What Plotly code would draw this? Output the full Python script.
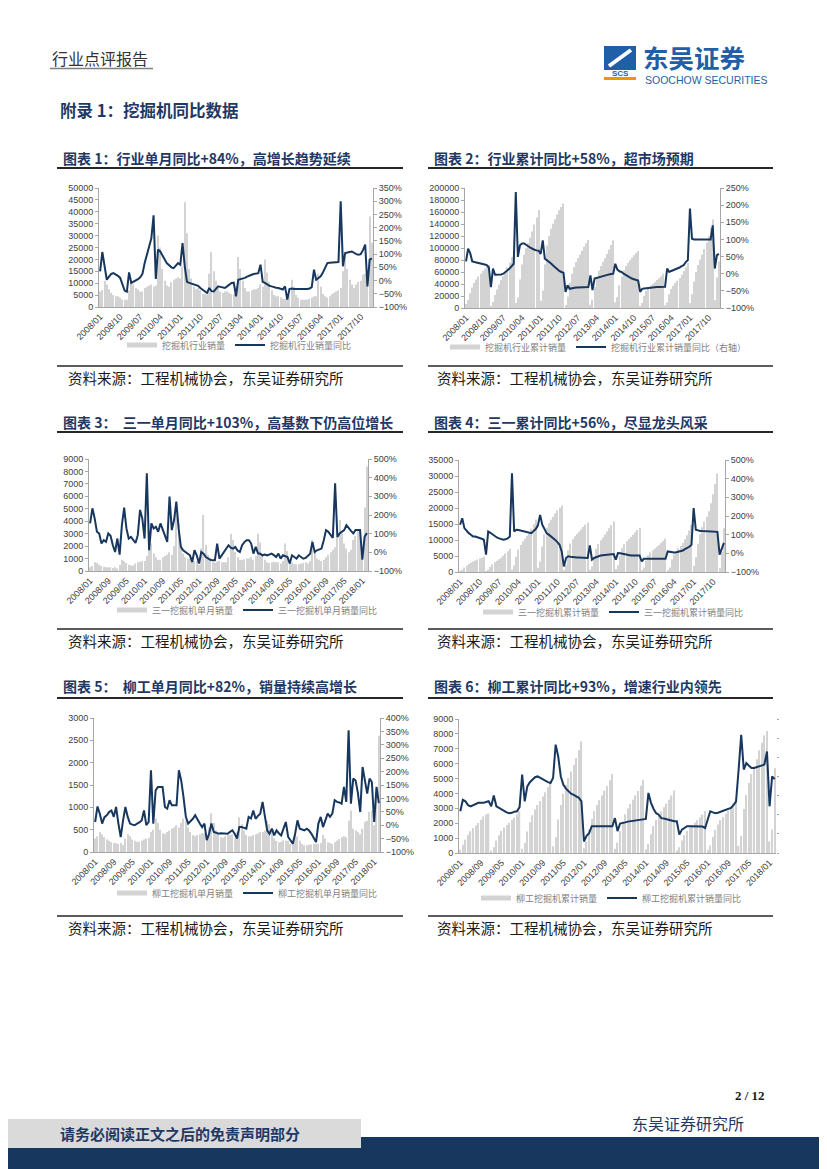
import plotly.graph_objects as go

W, H = 827, 1169
OFF = 8  # the page body adds an 8px margin, so page coordinates are shifted back by it
NAVY = "#1f3864"
LINE = "#17375e"
BAR = "#d3d3d3"
TXT = "#404040"
CJK = "Noto Sans CJK SC"
LAT = "Liberation Sans"

# month labels 2008/01 .. 2018/03
months = [f"{y}/{m:02d}" for y in range(2008, 2019) for m in range(1, 13)][:123]
ticks_9 = months[::9]
ticks_8 = months[::8]

# ---- 图表1: 挖掘机行业单月销量 / 同比 ----
ind_month_sales = [
    6500, 7000, 11000, 9500, 7500, 6000, 5000, 4500, 4500, 4000, 3200, 3000,
    3000, 7000, 11500, 9500, 8000, 7500, 6500, 6500, 8000, 8500, 9000, 9500,
    8500, 9000, 30000, 25000, 16000, 11000, 9000, 8500, 10500, 11500, 12000, 12500,
    12000, 17000, 44000, 31000, 16000, 12000, 8500, 7500, 8000, 7000, 5500, 5500,
    5000, 14000, 23000, 15000, 11000, 8500, 6500, 6000, 6500, 6500, 6000, 5500,
    5500, 8500, 21000, 16000, 11000, 8000, 6500, 6500, 7000, 7500, 7500, 8000,
    9500, 8500, 20000, 14500, 10500, 7000, 5000, 4500, 4500, 4000, 3500, 3500,
    3500, 5000, 11500, 8500, 5000, 4000, 3000, 3000, 3000, 3000, 3500, 4000,
    4500, 4500, 14000, 8500, 5500, 4500, 4000, 4500, 5500, 6000, 6500, 7000,
    8000, 15000, 21000, 16000, 11500, 9500, 8000, 9500, 10500, 11000, 13500, 14000,
    13000, 38000, 27000,
]
ind_month_yoy = [
    35, 108, 55, 3, 15, 25, 28, 24, 18, 10, -15, -38,
    -42, 31, -9, -5, 0, 5, 12, 25, 66, 100, 129, 160,
    247, 6, 117, 110, 95, 80, 65, 58, 50, 47, 55, 66,
    60, 142, 54, -5, -9, -12, -14, -16, -20, -28, -35, -42,
    -47, -28, -40, -41, -30, -22, -24, -27, -28, -22, -15, -9,
    -8, -60, 3, 5, 8, 10, 15, 20, 22, 25, 26, 28,
    60, -5, -9, -15, -20, -22, -25, -27, -28, -30, -34, -22,
    -72, -32, -30, -32, -33, -32, -32, -31, -32, -32, -30, -25,
    41, 3, 10, 16, 30, 50, 66, 67, 68, 68, 69, 70,
    300, 54, 104, 105, 108, 110, 104, 100, 98, 100, 115, 136,
    -22, 79, 84,
]

# ---- 图表2: 挖掘机行业累计销量 / 同比 ----
ind_cum_sales = [
    6500, 13500, 24500, 34000, 41500, 47500, 52500, 57000, 61500, 65500, 68700, 71700,
    3000, 10000, 21500, 31000, 39000, 46500, 53000, 59500, 67500, 76000, 85000, 94500,
    8500, 17500, 47500, 72500, 88500, 99500, 108500, 117000, 127500, 139000, 151000, 163500,
    12000, 29000, 73000, 104000, 120000, 132000, 140500, 148000, 156000, 163000, 168500, 174000,
    5000, 19000, 42000, 57000, 68000, 76500, 83000, 89000, 95500, 102000, 108000, 113500,
    5500, 14000, 35000, 51000, 62000, 70000, 76500, 83000, 90000, 97500, 105000, 113000,
    9500, 18000, 38000, 52500, 63000, 70000, 75000, 79500, 84000, 88000, 91500, 95000,
    3500, 8500, 20000, 28500, 33500, 37500, 40500, 43500, 46500, 49500, 53000, 57000,
    4500, 9000, 23000, 31500, 37000, 41500, 45500, 50000, 55500, 61500, 68000, 75000,
    8000, 23000, 44000, 60000, 71500, 81000, 89000, 98500, 109000, 120000, 133500, 147500,
    13000, 51000, 78000,
]
ind_cum_yoy = [
    36, 73, 60, 36, 34, 33, 32, 30, 29, 27, 25, 18,
    -39, 15, -3, -3, -3, -2, 0, 4, 10, 15, 22, 29,
    238, 49, 83, 88, 88, 85, 80, 76, 72, 70, 68, 67,
    58, 97, 44, 40, 35, 30, 24, 18, 13, 8, 5, 3,
    -53, -34, -44, -42, -41, -40, -40, -40, -40, -39, -39, -39,
    -5, -48, -14, -12, -10, -8, -6, -5, -3, -2, -1, 0,
    29, 12, 7, 5, 0, -4, -8, -12, -14, -16, -18, -20,
    -53, -44, -43, -42, -41, -40, -40, -40, -39, -39, -39, -39,
    -38, 15, 5, 8, 10, 12, 14, 18, 22, 25, 34, 40,
    190, 102, 100, 100, 100, 100, 100, 100, 100, 100, 100, 141,
    15, 54, 58,
]

# ---- 图表3: 三一挖掘机单月销量 / 同比 ----
sany_month_sales = [
    300, 400, 700, 650, 500, 400, 350, 300, 300, 300, 250, 300,
    200, 500, 900, 800, 650, 500, 450, 450, 600, 700, 750, 800,
    800, 1200, 2800, 2200, 1400, 1100, 900, 900, 1100, 1200, 1300, 1500,
    1300, 2000, 4700, 3800, 2000, 1400, 1100, 1000, 1000, 900, 800, 800,
    500, 1800, 4500, 2100, 1300, 1000, 700, 650, 750, 800, 700, 700,
    700, 1100, 3000, 2500, 1500, 1100, 900, 900, 950, 1000, 1000, 1100,
    900, 1200, 3000, 2300, 1300, 900, 700, 650, 700, 750, 700, 700,
    600, 800, 2200, 1600, 900, 700, 550, 550, 550, 600, 650, 700,
    600, 800, 2500, 1600, 1000, 900, 800, 900, 1100, 1300, 1500, 1700,
    1900, 2800, 4100, 3000, 2200, 1800, 1500, 1700, 2500, 2800, 3200, 3300,
    1200, 5100, 8400,
]
sany_month_yoy = [
    155, 236, 182, 110, 101, 47, 65, 56, 101, 89, 38, 2,
    74, -12, 146, 239, 128, 74, 83, 65, 50, 92, 227, 182,
    74, 424, 11, 155, 128, 137, 110, 155, 119, 83, 56, 299,
    119, 173, 272, 128, 29, 11, 2, -7, -16, -52, 11, -16,
    -60, 2, -7, -25, -34, -40, -43, -43, 47, -34, -16, 2,
    20, 38, 25, 20, 29, 10, 2, 38, 55, 65, 65, 47,
    -7, 29, -5, -7, -16, -12, -16, -10, -7, -15, -25, -7,
    -34, -16, -20, -25, -60, -16, -25, -34, -16, -25, -34, -30,
    -20, -7, 56, 2, 11, 15, 20, 65, 119, 110, 95, 78,
    370, 83, 101, 110, 119, 146, 128, 115, 101, 119, 119, 119,
    -39, 83, 103,
]

# ---- 图表4: 三一挖掘机累计销量 / 同比 ----
sany_cum_sales = [
    300, 700, 1400, 2050, 2550, 2950, 3300, 3600, 3900, 4200, 4450, 4750,
    200, 700, 1600, 2400, 3050, 3550, 4000, 4450, 5050, 5750, 6500, 7300,
    800, 2000, 4800, 7000, 8400, 9500, 10400, 11300, 12400, 13600, 14900, 16400,
    1300, 3300, 8000, 11800, 13800, 15200, 16300, 17300, 18300, 19200, 20000, 20800,
    500, 2300, 6800, 8900, 10200, 11200, 11900, 12550, 13300, 14100, 14800, 15500,
    700, 1800, 4800, 7300, 8800, 9900, 10800, 11700, 12650, 13650, 14650, 15750,
    900, 2100, 5100, 7400, 8700, 9600, 10300, 10950, 11650, 12400, 13100, 13800,
    600, 1400, 3600, 5200, 6100, 6800, 7350, 7900, 8450, 9050, 9700, 10400,
    600, 1400, 3900, 5500, 6500, 7400, 8200, 9100, 10200, 11500, 13000, 14700,
    1900, 4700, 8800, 11800, 14000, 15800, 17300, 19000, 21500, 24300, 27500, 30800,
    1200, 6300, 13700,
]
sany_cum_yoy = [
    153, 188, 135, 120, 108, 100, 90, 90, 88, 82, 78, 73,
    -7, 117, 110, 100, 90, 85, 80, 76, 73, 75, 80, 90,
    429, 117, 126, 125, 122, 120, 117, 115, 110, 108, 120, 130,
    150, 206, 153, 130, 108, 100, 92, 82, 72, 60, 46, 10,
    -70, -25, -16, -18, -20, -20, -22, -22, -23, -25, -25, -25,
    42, -34, -25, -20, -16, -12, -10, -8, -7, -6, -5, -4,
    -34, 1, 0, -3, -5, -8, -10, -11, -11, -11, -11, -11,
    -43, -29, -29, -29, -29, -29, -29, -29, -29, -29, -29, -29,
    10, 8, 5, 5, 6, 8, 10, 15, 22, 28, 35, 46,
    242, 126, 121, 120, 119, 119, 118, 118, 117, 117, 117, 115,
    -7, 28, 56,
]

# ---- 图表5: 柳工挖掘机单月销量 / 同比 ----
liugong_month_sales = [
    300, 350, 450, 400, 330, 280, 250, 220, 200, 200, 180, 200,
    150, 300, 400, 350, 280, 250, 230, 230, 250, 280, 300, 320,
    450, 500, 750, 650, 500, 420, 400, 450, 480, 520, 550, 600,
    550, 650, 750, 700, 550, 450, 380, 350, 380, 400, 420, 420,
    300, 550, 870, 650, 480, 380, 330, 320, 350, 380, 380, 400,
    300, 450, 780, 620, 480, 380, 350, 350, 380, 400, 420, 450,
    450, 480, 700, 620, 450, 300, 250, 220, 230, 260, 250, 250,
    180, 250, 420, 350, 250, 180, 150, 150, 160, 170, 180, 190,
    180, 200, 380, 300, 220, 200, 180, 220, 260, 290, 330, 350,
    330, 700, 930, 520, 480, 450, 400, 520, 670, 700, 900, 930,
    600, 1300, 2600,
]
liugong_month_yoy = [
    12, 70, 43, 6, 30, 37, 49, 55, 31, 68, 6, -44,
    18, 68, 31, 6, 2, 0, 6, 10, 18, 55, 0, 12,
    205, 6, 130, 143, 143, 143, 68, 62, 93, 74, 74, 74,
    205, 167, 105, 31, 6, 15, 24, 37, 20, 6, -7, 6,
    -56, -32, 6, -25, -28, -32, -30, -30, -30, -32, -25, -19,
    -32, -50, -7, -7, -10, -13, 31, 25, 55, 24, 35, 43,
    87, 31, -20, -32, -13, -38, -19, -30, -38, -13, 12, -44,
    -55, -69, -32, 18, -13, -16, -19, -13, -20, -32, -45, -63,
    6, 31, -7, 20, 43, 31, 43, 93, 87, 85, 80, 143,
    87, 354, 80, 174, 167, 120, 49, 217, 167, 118, 174, 161,
    12, 143, 82,
]

# ---- 图表6: 柳工挖掘机累计销量 / 同比 ----
liugong_cum_sales = [
    220, 560, 900, 1230, 1460, 1680, 1840, 2020, 2240, 2460, 2580, 2650,
    170, 390, 840, 1200, 1480, 1710, 1880, 2040, 2210, 2380, 2580, 2800,
    290, 670, 1440, 2060, 2540, 2930, 3220, 3500, 3790, 4080, 4420, 4800,
    450, 1050, 2250, 3230, 3980, 4580, 5030, 5480, 5930, 6380, 6900, 7500,
    320, 740, 1590, 2280, 2810, 3230, 3550, 3870, 4190, 4500, 4880, 5300,
    290, 690, 1470, 2110, 2600, 2990, 3280, 3580, 3870, 4170, 4510, 4900,
    250, 590, 1260, 1810, 2230, 2560, 2810, 3070, 3320, 3570, 3860, 4200,
    170, 390, 840, 1200, 1480, 1710, 1880, 2040, 2210, 2380, 2580, 2800,
    220, 500, 1080, 1550, 1910, 2200, 2410, 2630, 2840, 3060, 3310, 3600,
    490, 1150, 2950, 3900, 4700, 5300, 5800, 6300, 6900, 7400, 7900, 8200,
    780, 1570, 5700,
]
liugong_cum_yoy = [
    9, 39, 35, 25, 22, 25, 28, 31, 31, 31, 33, 35,
    22, 50, 22, 18, 12, 9, 6, 4, 5, 8, 9, 20,
    105, 35, 74, 85, 92, 98, 100, 96, 92, 87, 85, 83,
    96, 183, 152, 100, 78, 68, 61, 55, 52, 48, 44, 35,
    -70, -55, -48, -30, -30, -30, -30, -30, -30, -30, -30, -30,
    -9, -43, -23, -22, -20, -18, -17, -16, -15, -15, -14, -12,
    -11, 57, 31, 15, 4, 0, -9, -10, -12, -13, -15, -17,
    -17, -52, -39, -34, -30, -30, -30, -30, -30, -30, -31, -35,
    -13, 9, 6, 4, 5, 8, 11, 13, 16, 18, 25, 35,
    118, 209, 118, 135, 128, 122, 122, 124, 126, 128, 131, 165,
    22, 100, 93,
]

titles = [
    "图表 1：行业单月同比+84%，高增长趋势延续",
    "图表 2：行业累计同比+58%，超市场预期",
    "图表 3：  三一单月同比+103%，高基数下仍高位增长",
    "图表 4：三一累计同比+56%，尽显龙头风采",
    "图表 5：  柳工单月同比+82%，销量持续高增长",
    "图表 6：柳工累计同比+93%，增速行业内领先",
]
source = "资料来源：工程机械协会，东吴证券研究所"


def px(x):
    return (x - OFF) / W


def py(y):
    return 1 - (y - OFF) / H


charts = [
    dict(bar=ind_month_sales, line=ind_month_yoy, ticks=ticks_9,
         names=("挖掘机行业销量", "挖掘机行业销量同比"),
         box=(99, 373, 188, 307), left=(0, 50000, 5000), right=(-100, 350, 50),
         legend=(122, 345)),
    dict(bar=ind_cum_sales, line=ind_cum_yoy, ticks=ticks_9,
         names=("挖掘机行业累计销量", "挖掘机行业累计销量同比（右轴）"),
         box=(465, 720, 188, 308), left=(0, 200000, 20000), right=(-100, 250, 50),
         legend=(445, 347)),
    dict(bar=sany_month_sales, line=sany_month_yoy, ticks=ticks_8,
         names=("三一挖掘机单月销量", "三一挖掘机单月销量同比"),
         box=(89, 368, 459, 571), left=(0, 9000, 1000), right=(-100, 500, 100),
         legend=(112, 610)),
    dict(bar=sany_cum_sales, line=sany_cum_yoy, ticks=ticks_9,
         names=("三一挖掘机累计销量", "三一挖掘机累计销量同比"),
         box=(459, 725, 460, 572), left=(0, 35000, 5000), right=(-100, 500, 100),
         legend=(478, 612)),
    dict(bar=liugong_month_sales, line=liugong_month_yoy, ticks=ticks_8,
         names=("柳工挖掘机单月销量", "柳工挖掘机单月销量同比"),
         box=(94, 380, 718, 852), left=(0, 3000, 500), right=(-100, 400, 50),
         legend=(112, 893)),
    dict(bar=liugong_cum_sales, line=liugong_cum_yoy, ticks=ticks_8,
         names=("柳工挖掘机累计销量", "柳工挖掘机累计销量同比"),
         box=(459, 776, 719, 853), left=(0, 9000, 1000), right=(-100, 250, 50),
         legend=(476, 898), hide_right=True),
]

fig = go.Figure()
layout = {}

for k, c in enumerate(charts, start=1):
    xid = "x" if k == 1 else f"x{k}"
    yl = 2 * k - 1
    yr = 2 * k
    ylid = "y" if yl == 1 else f"y{yl}"
    yrid = f"y{yr}"
    lgid = "legend" if k == 1 else f"legend{k}"
    x0, x1, y0, y1 = c["box"]
    hide_right = c.get("hide_right", False)

    fig.add_trace(go.Bar(
        x=months, y=c["bar"], name=c["names"][0], marker_color=BAR,
        marker_line_width=0, xaxis=xid, yaxis=ylid, showlegend=False,
    ))
    # flat grey legend key, as in the source charts
    fig.add_trace(go.Scatter(
        x=[None], y=[None], name=c["names"][0], mode="lines",
        line=dict(color=BAR, width=5), xaxis=xid, yaxis=ylid, legend=lgid,
        hoverinfo="skip",
    ))
    fig.add_trace(go.Scatter(
        x=months, y=c["line"], name=c["names"][1], mode="lines",
        line=dict(color=LINE, width=2), xaxis=xid, yaxis=yrid, legend=lgid,
    ))

    axis_common = dict(showgrid=False, zeroline=False, linecolor="#a6a6a6", linewidth=1)
    layout["xaxis" if k == 1 else f"xaxis{k}"] = dict(
        domain=[px(x0), px(x1)], anchor=ylid, type="category", showline=True,
        range=[-0.5, len(months) - 0.5], tickmode="array",
        tickvals=c["ticks"], ticktext=c["ticks"], tickangle=-45,
        tickfont=dict(family=LAT, size=9, color=TXT), ticks="", **axis_common,
    )
    lo, hi, step = c["left"]
    layout["yaxis" if yl == 1 else f"yaxis{yl}"] = dict(
        domain=[py(y1), py(y0)], anchor=xid, range=[lo, hi], dtick=step,
        tickformat="d", ticks="outside", ticklen=3, tickcolor="#a6a6a6", showline=True,
        tickfont=dict(family=LAT, size=9, color=TXT), **axis_common,
    )
    lo, hi, step = c["right"]
    layout[f"yaxis{yr}"] = dict(
        overlaying=ylid, side="right", anchor=xid, range=[lo, hi], dtick=step,
        ticksuffix="%", ticks="outside", ticklen=2 if hide_right else 3,
        tickcolor="#a6a6a6", showline=not hide_right,
        showticklabels=not hide_right,
        tickfont=dict(family=LAT, size=9, color=TXT), **axis_common,
    )
    lx, ly = c["legend"]
    layout[lgid] = dict(
        orientation="h", x=px(lx), y=py(ly), xanchor="left", yanchor="middle",
        font=dict(family=CJK, size=9, color="#7f7f7f"),
        bgcolor="rgba(0,0,0,0)", itemwidth=30, traceorder="normal",
    )

annotations = []
shapes = []


def text(x, y, s, size, color="#000000", bold=False, family=CJK, anchor="left"):
    annotations.append(dict(
        x=px(x), y=py(y), xref="paper", yref="paper", xanchor=anchor,
        yanchor="middle", showarrow=False,
        text=f"<b>{s}</b>" if bold else s,
        font=dict(family=family, size=size, color=color),
    ))


def hline(x0, x1, y, color, width):
    shapes.append(dict(type="line", xref="paper", yref="paper",
                       x0=px(x0), x1=px(x1), y0=py(y), y1=py(y),
                       line=dict(color=color, width=width)))


def rect(x0, x1, y0, y1, color):
    shapes.append(dict(type="rect", xref="paper", yref="paper",
                       x0=px(x0), x1=px(x1), y0=py(y1), y1=py(y0),
                       fillcolor=color, line=dict(width=0), layer="below"))


# page header
text(50, 58, "行业点评报告", 16, "#333333")
hline(50, 153, 68.5, "#7f7f7f", 1.5)
rect(604, 636, 46, 70, "#1f5fa8")
shapes.append(dict(type="line", xref="paper", yref="paper",
                   x0=px(609), y0=py(66), x1=px(631), y1=py(50),
                   line=dict(color="#ffffff", width=4)))
text(620, 73.5, "SCS", 8, "#1f5fa8", bold=True, family=LAT, anchor="center")
rect(604, 636, 77, 80, "#f29400")
text(641, 56, "东吴证券", 25.5, "#1f5fa8", bold=True)
text(643, 79.5, "SOOCHOW SECURITIES", 10.5, "#1f5fa8", family=LAT)

text(58, 110, "附录 1：挖掘机同比数据", 16.5, NAVY, bold=True)

col_x = [(57, 403, 61, 66), (428, 773, 432, 435)]
rows_y = [(158, 168, 366, 377), (422, 432, 629, 640), (686, 698, 916, 927)]
for i, t in enumerate(titles):
    r, col = divmod(i, 2)
    lx0, lx1, tx, sx = col_x[col]
    ty, uy, sy, st = rows_y[r]
    text(tx, ty, t, 14, NAVY, bold=True)
    hline(lx0, lx1, uy, "#262626", 2.2)
    hline(lx0, lx1, sy, "#262626", 1.5)
    text(sx, st, source, 14.5, "#1a1a1a")

# footer
text(767, 1095, "2 / 12", 13, "#1a1a1a", bold=True, family="Liberation Serif", anchor="right")
text(630, 1123, "东吴证券研究所", 16, NAVY)
rect(0, 361, 1119, 1148, "#dadada")
rect(361, W + OFF, 1137, H + OFF, "#17375e")
rect(0, 361, 1148, H + OFF, "#17375e")
text(58, 1133, "请务必阅读正文之后的免责声明部分", 15, NAVY, bold=True)

fig.update_layout(
    width=W, height=H, autosize=False,
    margin=dict(l=0, r=0, t=0, b=0, autoexpand=False),
    paper_bgcolor="#ffffff", plot_bgcolor="#ffffff",
    bargap=0.5, annotations=annotations, shapes=shapes,
    **layout,
)

fig.write_html("out.html")
